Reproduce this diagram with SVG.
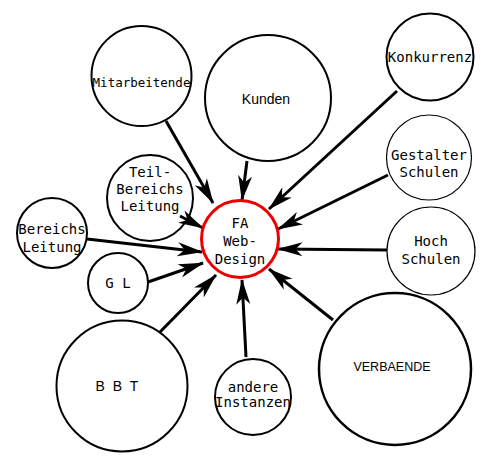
<svg xmlns="http://www.w3.org/2000/svg" width="494" height="467" viewBox="0 0 494 467">
<style>
.c{fill:#fff;stroke:#000;stroke-width:2}
.t{fill:#fff;stroke:#000;stroke-width:1.2}
.m{font-family:"DejaVu Sans Mono","Liberation Mono",monospace;font-size:14px;text-anchor:middle;fill:#000}
.s{font-family:"Liberation Sans",Arial,sans-serif;font-size:14px;text-anchor:middle;fill:#000}
.e{stroke:#000;stroke-width:3;fill:none;marker-end:url(#ah)}
</style>
<defs>
<marker id="ah" markerUnits="userSpaceOnUse" markerWidth="27" markerHeight="15" refX="24.5" refY="7" orient="auto">
<path d="M0,0 L25.5,7 L0,14 L7,7 z" fill="#000"/>
</marker>
</defs>
<rect width="494" height="467" fill="#fff"/>
<g id="n-mitarbeitende"><circle class="c" cx="141.5" cy="76" r="50"/><text class="m" x="141.5" y="87" style="font-size:12.5px">Mitarbeitende</text></g>
<g id="n-kunden"><circle class="c" cx="268" cy="98" r="63"/><text class="s" x="266" y="104">Kunden</text></g>
<g id="n-konkurrenz"><circle class="c" cx="430" cy="57" r="43.5"/><text class="m" x="430" y="62">Konkurrenz</text></g>
<g id="n-gestalter"><circle class="t" cx="429" cy="157.5" r="42.5"/><text class="m" x="429" y="160">Gestalter</text><text class="m" x="429" y="177">Schulen</text></g>
<g id="n-hoch"><circle class="t" cx="431" cy="251" r="44"/><text class="m" x="431" y="246">Hoch</text><text class="m" x="431" y="264">Schulen</text></g>
<g id="n-verbaende"><circle class="c" cx="395" cy="369" r="76" style="stroke-width:2.5"/><text class="s" x="392" y="371" style="font-size:12.5px">VERBAENDE</text></g>
<g id="n-teil"><circle class="c" cx="150" cy="198" r="43"/><text class="m" x="150" y="177">Teil-</text><text class="m" x="150" y="194">Bereichs</text><text class="m" x="150" y="211">Leitung</text></g>
<g id="n-bereichs"><circle class="c" cx="52" cy="233" r="35"/><text class="m" x="52" y="234">Bereichs</text><text class="m" x="52" y="252">Leitung</text></g>
<g id="n-gl"><circle class="c" cx="118" cy="283" r="30"/><text class="m" x="118" y="288">G L</text></g>
<g id="n-bbt"><circle class="c" cx="122" cy="386" r="65.5"/><text class="s" x="118" y="391" style="letter-spacing:2px">B B T</text></g>
<g id="n-andere"><circle class="c" cx="253" cy="397" r="38"/><text class="m" x="253" y="392">andere</text><text class="m" x="253" y="407">Instanzen</text></g>
<g id="connectors">
<line class="e" x1="166" y1="121" x2="213" y2="203"/>
<line class="e" x1="247" y1="161" x2="242" y2="200"/>
<line class="e" x1="397" y1="91" x2="269" y2="209"/>
<line class="e" x1="388" y1="175" x2="278" y2="229"/>
<line class="e" x1="387" y1="250" x2="278" y2="249"/>
<line class="e" x1="333" y1="320" x2="269" y2="269"/>
<line class="e" x1="246" y1="357" x2="242" y2="280"/>
<line class="e" x1="160" y1="332" x2="216" y2="275"/>
<line class="e" x1="148" y1="282" x2="203" y2="263"/>
<line class="e" x1="87" y1="239" x2="202" y2="252"/>
<line class="e" x1="180" y1="216" x2="203" y2="228"/>
</g>
<g id="n-fa"><circle cx="240" cy="239" r="38.5" fill="#fff" stroke="#e00" stroke-width="3"/><text class="m" x="240" y="228">FA</text><text class="m" x="240" y="246">Web-</text><text class="m" x="240" y="264">Design</text></g>
</svg>
